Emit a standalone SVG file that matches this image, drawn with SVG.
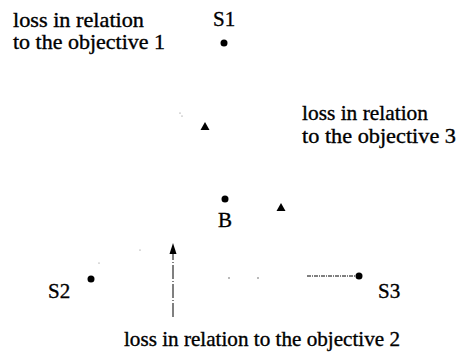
<svg xmlns="http://www.w3.org/2000/svg" width="457" height="359" viewBox="0 0 457 359">
<style>
text{font-family:'Liberation Serif','Times New Roman','DejaVu Serif',serif;fill:#000;stroke:#000;stroke-width:0.35;font-size:21px}
.pt{fill:#000}
.faint{fill:#777}
.conn{stroke:#000;stroke-width:1;fill:none}
</style>
<rect width="457" height="359" fill="#fff"/>
<g id="label-obj1">
<text x="13" y="27" textLength="131" lengthAdjust="spacingAndGlyphs">loss in relation</text>
<text x="13" y="49" textLength="152" lengthAdjust="spacingAndGlyphs">to the objective 1</text>
</g>
<g id="S1">
<text x="213" y="26" font-size="23">S1</text>
<circle class="pt" cx="224" cy="43" r="3.5"/>
</g>
<g id="T1"><polygon class="pt" points="205,122 209.5,130 200.5,130"/></g>
<g id="label-obj3">
<text x="302" y="120" textLength="126" lengthAdjust="spacingAndGlyphs">loss in relation</text>
<text x="302" y="143" textLength="154" lengthAdjust="spacingAndGlyphs">to the objective 3</text>
</g>
<g id="B">
<circle class="pt" cx="225" cy="199" r="3.5"/>
<text x="218" y="227" font-size="23">B</text>
</g>
<g id="T2"><polygon class="pt" points="281,203 285.5,211 276.5,211"/></g>
<g id="S2">
<circle class="pt" cx="91" cy="279" r="3.5"/>
<text x="48" y="298" font-size="23">S2</text>
</g>
<g id="S3">
<circle class="pt" cx="359" cy="276" r="3.5"/>
<text x="378" y="298" font-size="23">S3</text>
</g>
<g id="label-obj2">
<text x="124" y="346" textLength="276" lengthAdjust="spacingAndGlyphs">loss in relation to the objective 2</text>
</g>
<g id="connectors">
<line class="conn" x1="173" y1="317" x2="173" y2="252" stroke-dasharray="14,2,1,2"/>
<polygon class="pt" points="173,243 176.5,254 169.5,254"/>
<line class="conn" x1="307" y1="276" x2="355" y2="276" stroke-dasharray="4,1,1,1"/>
<circle class="faint" cx="180" cy="113" r="0.6"/>
<circle class="faint" cx="182" cy="116" r="0.6"/>
<circle class="faint" cx="140" cy="250" r="0.6"/>
<circle class="faint" cx="99" cy="263" r="0.6"/>
<rect class="faint" x="228" y="277.5" width="2" height="1"/>
<rect class="faint" x="257" y="277.5" width="2" height="1"/>
</g>
</svg>
